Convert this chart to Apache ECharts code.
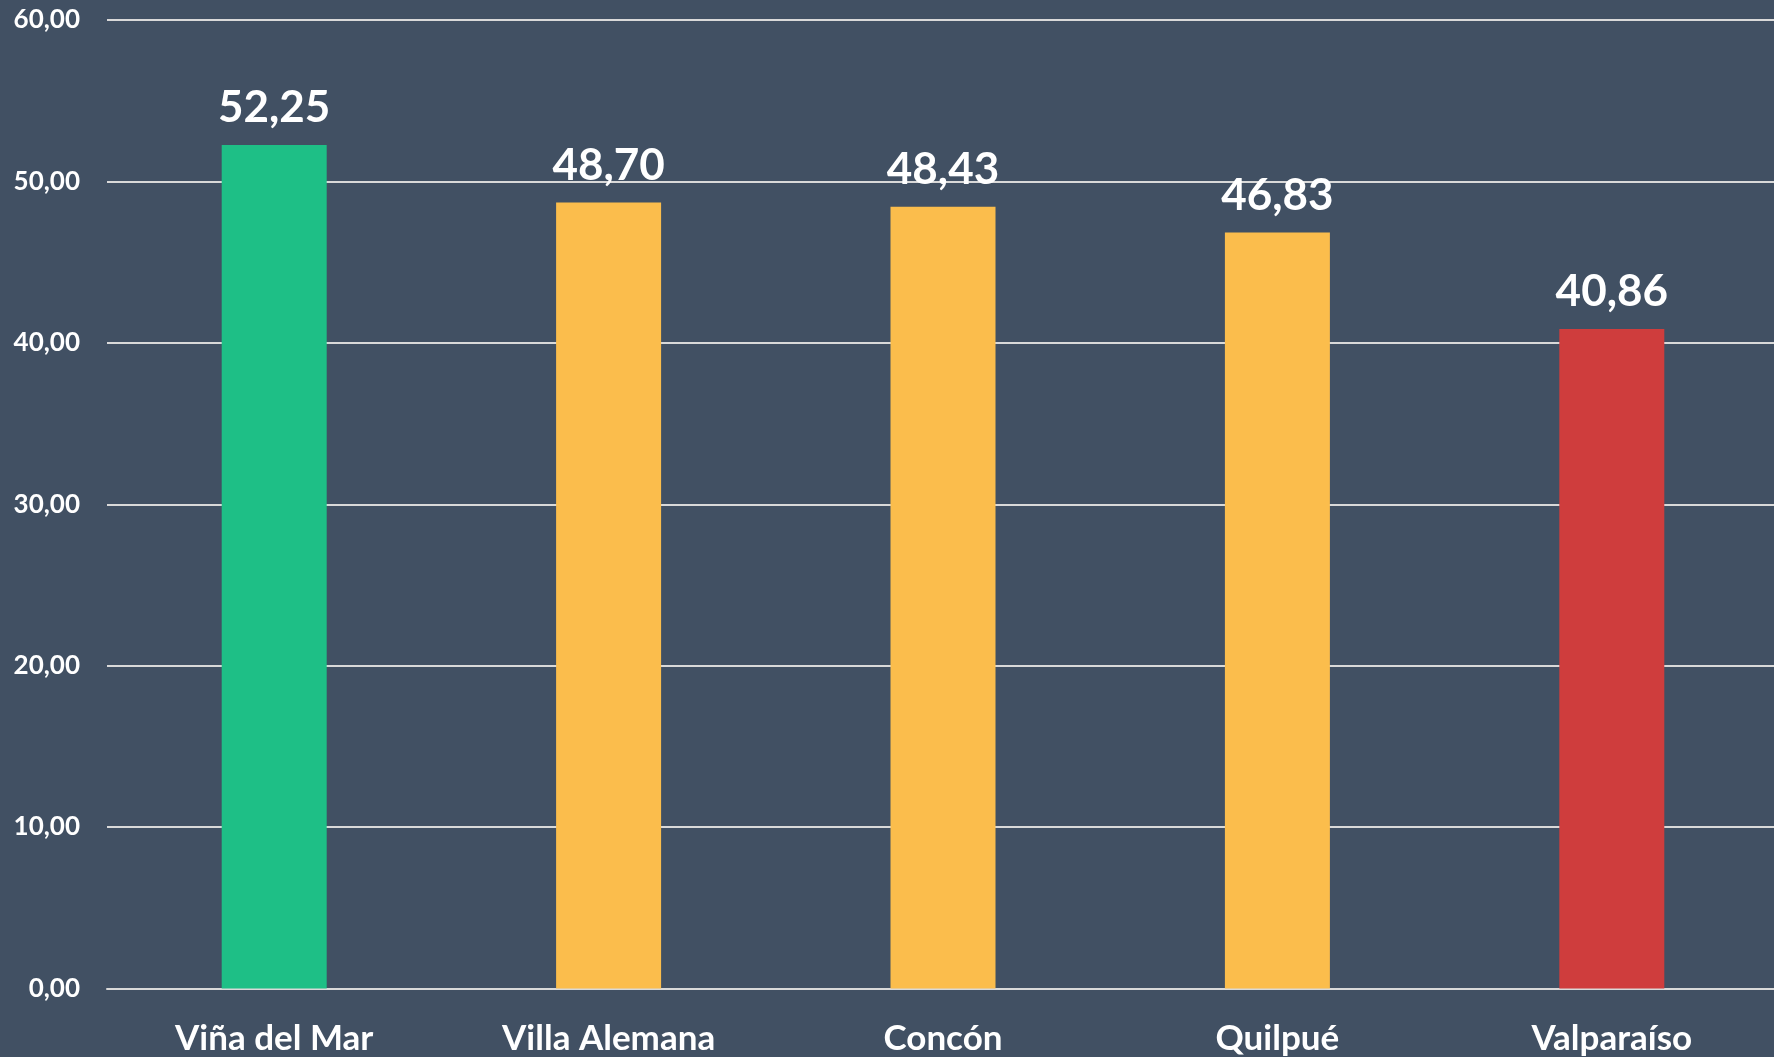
<!DOCTYPE html>
<html>
<head>
<meta charset="utf-8">
<script src="https://cdn.jsdelivr.net/npm/echarts@6/dist/echarts.min.js"></script>
<style>
html,body{margin:0;padding:0;background:#415063;}
#c{width:1774px;height:1057px;}
</style>
</head>
<body>
<div id="c"></div>
<script>
const categories = ['Viña del Mar', 'Villa Alemana', 'Concón', 'Quilpué', 'Valparaíso'];
const values = [52.25, 48.70, 48.43, 46.83, 40.86];
const barColors = ['#1ebf86', '#fbbd4c', '#fbbd4c', '#fbbd4c', '#cf3d3d'];
const yMin = 0, yMax = 60, yStep = 10;

const fmt = v => v.toFixed(2).replace('.', ',');
const FONT = 'Lato';

const chart = echarts.init(document.getElementById('c'));
chart.setOption({
  backgroundColor: '#415063',
  animation: false,
  grid: { left: 107, right: -5, top: 20, bottom: 68.5, outerBoundsMode: 'none', containLabel: false },
  xAxis: {
    type: 'category',
    data: categories,
    axisLine: { show: true, lineStyle: { color: '#d9d9d9', width: 2 } },
    axisTick: { show: false },
    axisLabel: { color: '#ffffff', fontFamily: FONT, fontWeight: 'bold', fontSize: 35, margin: 33 }
  },
  yAxis: {
    type: 'value',
    min: yMin, max: yMax, interval: yStep,
    axisLine: { show: false },
    axisTick: { show: false },
    splitLine: { show: true, lineStyle: { color: '#d9d9d9', width: 2 } },
    axisLabel: { color: '#ffffff', fontFamily: FONT, fontWeight: 'bold', fontSize: 26, margin: 27, verticalAlign: 'middle', padding: [5, 0, 0, 0], formatter: v => fmt(v) }
  },
  series: [{
    type: 'bar',
    barWidth: 105,
    data: values.map((v, i) => ({ value: v, itemStyle: { color: barColors[i] } })),
    label: {
      show: true, position: 'top', distance: 15,
      color: '#ffffff', fontFamily: FONT, fontWeight: 'bold', fontSize: 44,
      formatter: p => fmt(p.value)
    }
  }]
});
</script>
</body>
</html>
